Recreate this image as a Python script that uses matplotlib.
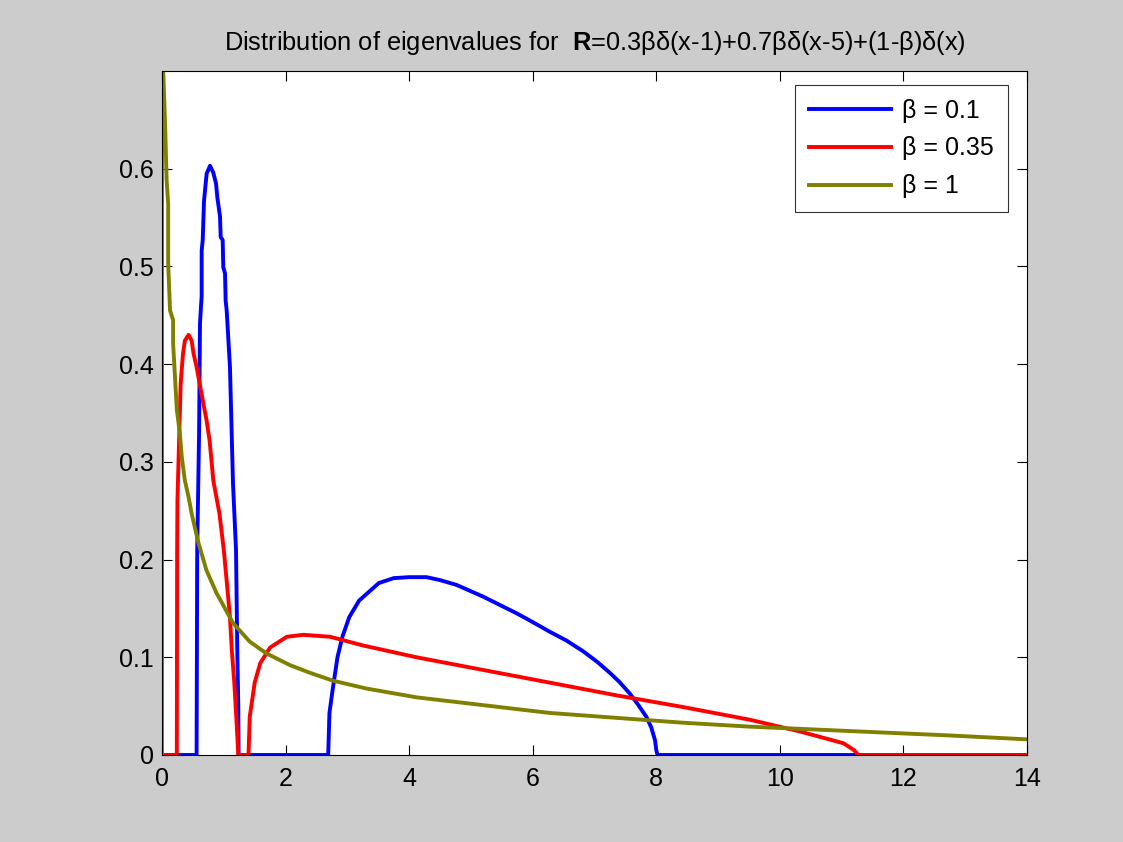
import matplotlib
matplotlib.use("Agg")
import matplotlib.pyplot as plt

plt.rcParams['font.family'] = ['Liberation Sans', 'DejaVu Sans']
plt.rcParams['mathtext.fontset'] = 'custom'
plt.rcParams['mathtext.rm'] = 'Liberation Sans'
plt.rcParams['mathtext.bf'] = 'Liberation Sans:bold'

title_text = r"Distribution of eigenvalues for  $\mathbf{R}$=0.3βδ(x-1)+0.7βδ(x-5)+(1-β)δ(x)"
labels = ["β = 0.1", "β = 0.35", "β = 1"]
colors = ["#0000ff", "#ff0000", "#808000"]

# beta = 0.1
x_b1 = [0, 0.56, 0.57, 0.60, 0.615, 0.642, 0.642, 0.659, 0.68, 0.712, 0.723, 0.777, 0.83, 0.874,
        0.895, 0.939, 0.95, 0.982, 0.992, 1.02, 1.03, 1.047, 1.10, 1.128, 1.149, 1.198, 1.22,
        1.235, 1.24, 2.69, 2.71, 2.76, 2.84, 2.92, 3.03, 3.19, 3.51, 3.75, 4.0, 4.28, 4.5, 4.77,
        5.20, 5.74, 6.0, 6.28, 6.55, 6.82, 7.05, 7.25, 7.4, 7.57, 7.7, 7.84, 7.92, 7.98, 8.00,
        8.02, 14]
y_b1 = [0, 0, 0.21, 0.329, 0.442, 0.47, 0.516, 0.527, 0.567, 0.588, 0.595, 0.603, 0.596, 0.585,
        0.571, 0.551, 0.530, 0.527, 0.499, 0.493, 0.465, 0.455, 0.397, 0.329, 0.278, 0.21, 0.10,
        0.05, 0, 0, 0.043, 0.066, 0.10, 0.121, 0.141, 0.158, 0.176, 0.181, 0.182, 0.182, 0.179,
        0.174, 0.162, 0.145, 0.136, 0.126, 0.117, 0.106, 0.095, 0.084, 0.075, 0.063, 0.052,
        0.039, 0.028, 0.015, 0.005, 0, 0]

# beta = 0.35
x_b35 = [0, 0.24, 0.245, 0.25, 0.28, 0.302, 0.34, 0.37, 0.43, 0.48, 0.51, 0.56, 0.61, 0.66,
         0.72, 0.77, 0.80, 0.83, 0.88, 0.93, 1.0, 1.05, 1.10, 1.13, 1.17, 1.21, 1.235, 1.40,
         1.42, 1.50, 1.59, 1.75, 2.02, 2.29, 2.72, 3.26, 4.12, 5.20, 6.28, 7.36, 8.44, 9.52,
         10.33, 11.03, 11.20, 11.27, 14]
y_b35 = [0, 0, 0.21, 0.261, 0.329, 0.38, 0.411, 0.424, 0.43, 0.424, 0.411, 0.397, 0.38, 0.363,
         0.343, 0.322, 0.302, 0.281, 0.264, 0.247, 0.21, 0.176, 0.141, 0.107, 0.074, 0.03, 0, 0,
         0.039, 0.074, 0.094, 0.11, 0.121, 0.123, 0.121, 0.112, 0.10, 0.087, 0.074, 0.061, 0.049,
         0.036, 0.024, 0.012, 0.005, 0, 0]

# beta = 1
x_b10 = [0, 0, 0.02, 0.05, 0.075, 0.10, 0.10, 0.13, 0.18, 0.18, 0.21, 0.24, 0.29, 0.32, 0.37,
         0.43, 0.48, 0.59, 0.72, 0.88, 1.15, 1.42, 1.69, 2.07, 2.40, 2.77, 3.31, 4.12, 5.20,
         6.28, 7.36, 8.44, 9.52, 10.60, 11.67, 12.75, 14.0]
y_b10 = [0, 0.75, 0.70, 0.646, 0.588, 0.564, 0.503, 0.455, 0.445, 0.421, 0.387, 0.353, 0.329,
         0.305, 0.281, 0.264, 0.247, 0.217, 0.189, 0.166, 0.135, 0.116, 0.104, 0.092, 0.084,
         0.076, 0.068, 0.059, 0.051, 0.043, 0.038, 0.033, 0.029, 0.026, 0.023, 0.020, 0.016]

xticks = [0, 2, 4, 6, 8, 10, 12, 14]
yticks = [0, 0.1, 0.2, 0.3, 0.4, 0.5, 0.6]
ytick_labels = ["0", "0.1", "0.2", "0.3", "0.4", "0.5", "0.6"]

fig = plt.figure(figsize=(11.23, 8.42), dpi=100, facecolor="#cccccc")
ax = fig.add_axes([162/1123, 87/842, 865/1123, 684/842])
ax.set_facecolor("white")

for xs, ys, lab, c in zip([x_b1, x_b35, x_b10], [y_b1, y_b35, y_b10], labels, colors):
    ax.plot(xs, ys, color=c, lw=2.8, label=lab)

ax.set_xlim(0, 14)
ax.set_ylim(0, 0.7)
ax.set_xticks(xticks)
ax.set_xticklabels([str(t) for t in xticks])
ax.set_yticks(yticks)
ax.set_yticklabels(ytick_labels)
ax.tick_params(direction="in", length=7, width=0.8, top=True, right=True, labelsize=18)
ax.tick_params(axis="x", pad=9)
ax.tick_params(axis="y", pad=6)
for s in ax.spines.values():
    s.set_linewidth(0.8)

ax.set_title(title_text, fontsize=18.3, pad=15)

leg = ax.legend(loc="upper right", bbox_to_anchor=(1008/1123, (842-85)/842),
                bbox_transform=fig.transFigure, fontsize=18, frameon=True, fancybox=False,
                edgecolor="black", handlelength=3.3, borderpad=0.55, labelspacing=0.55,
                handletextpad=0.45, borderaxespad=0)
leg.get_frame().set_linewidth(0.8)

fig.savefig("out.png", dpi=100, facecolor=fig.get_facecolor())
